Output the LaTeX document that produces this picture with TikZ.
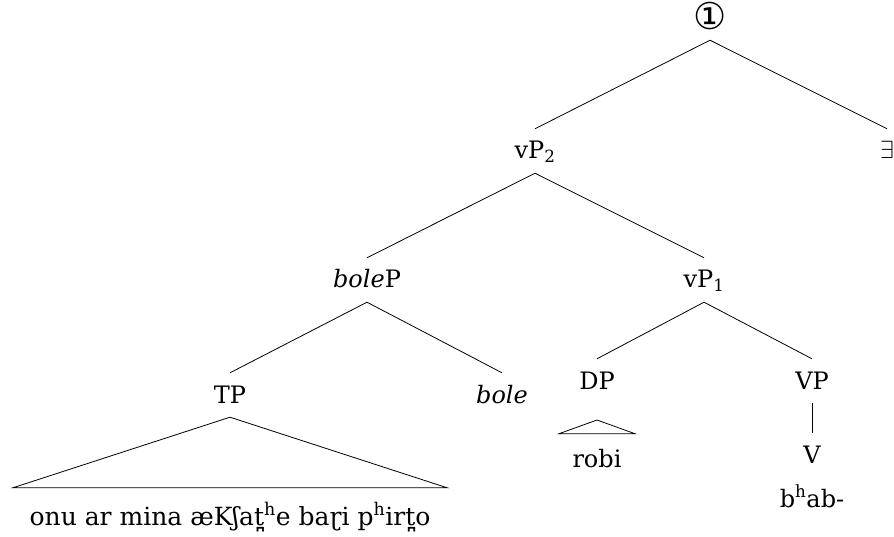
\documentclass[tikz,border=0pt]{standalone}
\usepackage{fontspec}
\setmainfont{DejaVu Serif}
\newfontfamily\circfont{DejaVu Sans}
\tikzset{
  every node/.style={font=\fontsize{24}{28}\selectfont},
  cat/.style={anchor=base,inner xsep=0pt,inner ysep=12pt,text height=18pt,text depth=2pt},
  word/.style={anchor=base,inner sep=0pt},
  roofed/.style={anchor=base,inner xsep=0pt,text height=18pt,text depth=5pt},
  branch/.style={line width=0.8pt},
}

\begin{document}
\begin{tikzpicture}[x=1pt,y=1pt]
  \useasboundingbox (0,0) rectangle (894,-537);

  % top of the tree
  \node[cat,text depth=0pt,inner ysep=10pt,font=\fontsize{37}{40}\selectfont\circfont]
    (root) at (710,-30) {①};
  \node[cat] (vPtwo) at (535,-159) {vP\textsubscript{2}};
  \node[cat] (ex)    at (887,-159) {$\exists$};

  % middle
  \node[cat] (boleP) at (367,-288) {\textit{bole}P};
  \node[cat] (vPone) at (704,-288) {vP\textsubscript{1}};

  % lower categories
  \node[cat] (TP)   at (230,-403) {TP};
  \node[cat] (bole) at (502,-403) {\textit{bole}};
  \node[cat] (DP)   at (597,-389) {DP};
  \node[cat] (VP)   at (812,-389) {VP};
  \node[cat] (V)    at (812,-463) {V};

  % leaves
  \node[roofed,inner ysep=19pt,minimum width=434pt,font=\fontsize{25}{28}\selectfont]
    (clause) at (230,-525)
    {onu ar mina æKʃat̪\textsuperscript{h}e baɽi p\textsuperscript{h}irt̪o};
  \node[roofed,inner ysep=15pt,minimum width=76pt] (robi) at (597,-467) {robi};
  \node[word] (bhab) at (812,-507) {b\textsuperscript{h}ab-};
  \coordinate (DProof) at (597,-420);

  \foreach \p/\c in {root/vPtwo,root/ex,vPtwo/boleP,vPtwo/vPone,boleP/TP,
                     boleP/bole,vPone/DP,vPone/VP,VP/V}
    \draw[branch] (\p.south) -- (\c.north);

  % roofs
  \draw[branch] (TP.south) -- (clause.north west) -- (clause.north east) -- cycle;
  \draw[branch] (DProof) -- (robi.north west) -- (robi.north east) -- cycle;
\end{tikzpicture}
\end{document}
